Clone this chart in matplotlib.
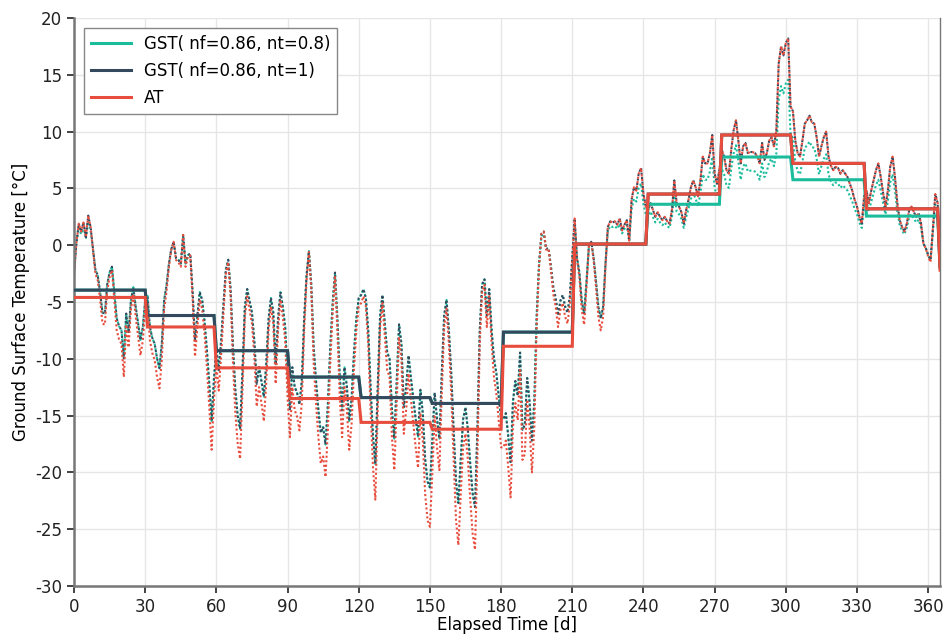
import numpy as np
import matplotlib
matplotlib.use("Agg")
import matplotlib.pyplot as plt

plt.rcParams["axes.unicode_minus"] = False

# Daily air temperature [°C], one value per elapsed day (0 .. 365)
at_jan = [-2.8, 0.2, 1.9, 1.2, 2.0, 0.7, 2.6, 1.6, -0.4, -2.5,
          -3.1, -4.8, -6.9, -7.0, -4.0, -2.8, -2.2, -4.8, -7.5, -8.3,
          -8.7, -11.6, -7.0, -9.0, -5.6, -4.3, -6.3, -8.0, -9.7, -8.4, -5.6]
at_feb = [-5.2, -8.4, -9.5, -10.1, -11.6, -12.6, -10.1, -5.6, -4.1, -1.9,
          -0.4, 0.3, -1.3, -1.5, -1.9, 0.9, -1.9, -1.0, -0.9, -4.8,
          -9.8, -7.2, -4.8, -5.6, -7.8, -10.7, -14.2, -18.0, -13.6]
at_mar = [-10.5, -12.8, -9.8, -6.0, -2.5, -1.5, -4.5, -10.4, -14.8, -17.5,
          -18.8, -12.8, -6.3, -4.5, -5.7, -6.9, -9.8, -14.2, -12.5, -13.9,
          -15.5, -12.2, -7.5, -5.4, -6.9, -12.2, -7.5, -4.8, -6.3, -8.4, -13.4]
at_apr = [-16.9, -12.5, -14.5, -15.1, -16.3, -13.9, -7.5, -3.1, -0.6, -4.0,
          -10.4, -13.9, -16.9, -19.2, -18.6, -20.4, -16.3, -10.4, -6.0, -2.8,
          -7.5, -13.4, -16.9, -12.5, -14.5, -18.0, -15.7, -11.0, -7.5, -5.4]
at_may = [-5.1, -4.5, -5.4, -8.7, -14.5, -19.5, -22.4, -14.5, -7.2, -5.1,
          -8.1, -11.0, -11.6, -16.9, -19.8, -13.9, -8.1, -10.1, -16.6, -14.5,
          -11.3, -13.6, -15.7, -17.8, -19.6, -14.8, -17.2, -21.9, -24.2, -24.8]
at_jun = [-20.1, -15.1, -17.8, -19.8, -13.1, -7.2, -5.6, -8.7, -13.1, -18.9,
          -24.2, -26.4, -21.9, -17.8, -16.6, -18.9, -22.4, -25.4, -26.8, -18.9,
          -8.7, -4.0, -3.5, -7.2, -4.5, -8.7, -11.6, -13.1, -15.4, -17.8, -17.8]
at_jul = [-17.2, -19.5, -22.2, -16.0, -13.9, -15.4, -11.0, -18.9, -18.4, -13.6,
          -16.0, -20.0, -16.0, -7.2, -1.9, 1.0, 1.2, -0.4, -0.3, -2.2,
          -4.3, -5.4, -7.2, -5.7, -5.1, -6.3, -6.9, -5.2, -1.3, 2.35]
at_aug = [-1.3, -2.8, -5.7, -7.0, -3.7, -0.1, 0.3, -1.3, -3.7, -6.3,
          -7.5, -6.3, -1.9, 1.6, 2.1, 2.0, 2.1, 1.8, 2.35, 1.3,
          1.8, 2.2, 0.4, 4.0, 5.1, 4.8, 6.3, 6.8, 4.5, 3.4, 3.1]
at_sep = [3.7, 3.1, 2.5, 2.9, 2.5, 2.2, 2.5, 2.1, 1.9, 3.1,
          5.7, 3.7, 3.4, 2.9, 1.9, 3.1, 4.0, 5.1, 5.7, 5.1,
          4.3, 5.7, 7.8, 7.2, 7.2, 8.1, 9.7, 6.3, 5.4, 6.6]
at_oct = [8.4, 7.8, 6.6, 6.3, 8.4, 10.1, 11.0, 9.2, 7.2, 8.7,
          9.0, 8.1, 8.2, 8.2, 8.1, 7.8, 7.2, 9.0, 7.5, 8.1,
          9.2, 9.5, 8.7, 10.1, 16.0, 17.5, 16.7, 17.8, 18.2, 12.2, 11.8]
at_nov = [9.2, 8.1, 7.8, 9.2, 10.7, 11.0, 11.4, 10.8, 10.7, 9.5,
          7.8, 8.7, 9.5, 10.0, 7.8, 7.0, 6.6, 6.9, 6.8, 6.3,
          6.6, 6.3, 6.0, 5.4, 4.8, 4.0, 3.4, 2.5, 1.9, 4.3]
at_dec = [4.8, 3.7, 4.8, 5.7, 6.6, 7.2, 6.0, 4.6, 3.4, 4.8,
          6.9, 7.8, 6.0, 3.7, 2.2, 1.6, 1.2, 1.9, 3.1, 3.4,
          2.9, 2.5, 2.8, 1.9, 0.15, -0.3, -1.0, -1.5, 1.5, 4.5, 3.7, -2.2]

# Monthly mean air temperature [°C] and the first elapsed day of each month
at_monthly = [-4.6, -7.2, -10.8, -13.5, -15.6, -16.2, -8.9, 0.1, 4.5, 9.7, 7.2, 3.2]
month_start = [0, 31, 60, 91, 121, 151, 181, 211, 242, 273, 303, 334]

# n-factors of the two ground surface temperature models
nf = 0.86
nt_values = [0.8, 1.0]

labels = ["GST( nf=0.86, nt=0.8)", "GST( nf=0.86, nt=1)", "AT"]
colors = ["#1abc9c", "#34495e", "#e74c3c"]

at_daily = np.array(at_jan + at_feb + at_mar + at_apr + at_may + at_jun +
                    at_jul + at_aug + at_sep + at_oct + at_nov + at_dec)
days = np.arange(len(at_daily))

# Monthly means spread over the days of each month; last point closes on the final day
month_of_day = np.searchsorted(month_start, days[:-1], side="right") - 1
at_step = np.append(np.asarray(at_monthly)[month_of_day], at_daily[-1])


def n_factor(t, nt):
    t = np.asarray(t, dtype=float)
    return np.where(t < 0, nf * t, nt * t)


fig = plt.figure(figsize=(9.44, 6.35), dpi=100)
ax = fig.add_axes([0.0784, 0.0772, 0.9174, 0.8945])

dot_style = (0, (1.0, 1.15))
dot_style_shift = (1.05, (1.0, 1.15))
dot_lw = 1.5

series_daily = [n_factor(at_daily, nt_values[0]), n_factor(at_daily, nt_values[1]), at_daily]
series_step = [n_factor(at_step, nt_values[0]), n_factor(at_step, nt_values[1]), at_step]

for i, (yd, col) in enumerate(zip(series_daily, colors)):
    ls = dot_style_shift if i == 2 else dot_style
    ax.plot(days, yd, color=col, lw=dot_lw, linestyle=ls, zorder=2)

for ys, col, lab in zip(series_step, colors, labels):
    ax.plot(days, ys, color=col, lw=2.2, solid_joinstyle="miter", label=lab, zorder=3)

ax.set_xlim(0, 365)
ax.set_ylim(-30, 20)
ax.set_xticks(np.arange(0, 361, 30))
ax.set_yticks(np.arange(-30, 21, 5))
ax.grid(True, color="#e6e6e6", lw=1.0)
ax.set_axisbelow(True)

for side in ["left", "bottom", "right", "top"]:
    ax.spines[side].set_color("#777777")
    ax.spines[side].set_linewidth(1.8 if side in ("left", "bottom") else 1.0)
ax.spines["top"].set_visible(False)

ax.tick_params(axis="both", labelsize=12, colors="#222222", length=5, width=1.2,
               direction="out")
ax.set_xlabel("Elapsed Time [d]", fontsize=12, labelpad=0)
ax.set_ylabel("Ground Surface Temperature [°C]", fontsize=12, labelpad=4)

leg = ax.legend(loc="upper left", fontsize=12, frameon=True, fancybox=False,
                edgecolor="#888888", framealpha=1.0, borderaxespad=0.6,
                handlelength=2.4, labelspacing=0.55)
leg.get_frame().set_linewidth(1.0)

fig.savefig("out.png", dpi=100)
